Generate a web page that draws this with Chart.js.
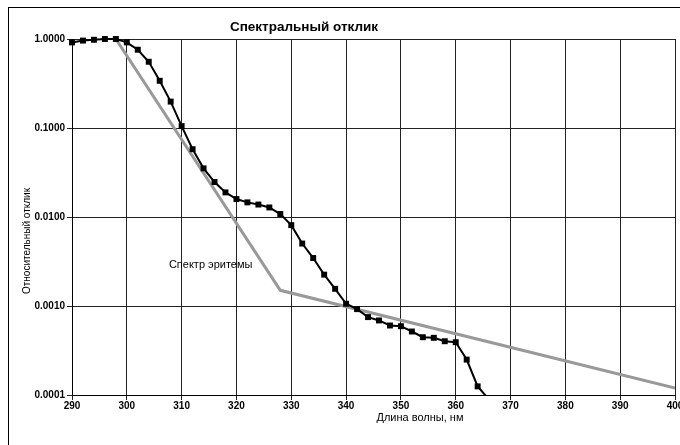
<!DOCTYPE html>
<html>
<head>
<meta charset="utf-8">
<script src="https://cdn.jsdelivr.net/npm/chart.js@4"></script>
<style>
    html, body { margin: 0; padding: 0; background: #fff; overflow: hidden; width: 680px; height: 445px; }
    canvas { display: block; }
</style>
</head>
<body>
<canvas id="chart" width="700" height="445"></canvas>
<script>
// длины волн, нм (шаг 2 нм)
const wavelengths = [290, 292, 294, 296, 298, 300, 302, 304, 306, 308, 310, 312, 314, 316, 318, 320,
    322, 324, 326, 328, 330, 332, 334, 336, 338, 340, 342, 344, 346, 348, 350, 352, 354, 356, 358,
    360, 362, 364, 366];
const sensorResponse = [0.916, 0.96, 0.98, 1.0, 1.0, 0.916, 0.758, 0.555, 0.339, 0.198, 0.105, 0.0578,
    0.0352, 0.0247, 0.0189, 0.0159, 0.0146, 0.0138, 0.0128, 0.0108, 0.0081, 0.00503, 0.00346, 0.00225,
    0.00156, 0.00106, 0.000922, 0.00075, 0.000688, 0.000604, 0.000593, 0.000517, 0.000446, 0.000439,
    0.000402, 0.000392, 0.00025, 0.000125, 0.00009];

// спектр эритемы
const erythemaWavelengths = [298, 328, 400];
const erythemaValues = [1.0, 0.0015, 0.00012];

const yTicks = [0.0001, 0.001, 0.01, 0.1, 1];
const chartTitle = 'Спектральный отклик';
const xTitle = 'Длина волны, нм';
const yTitle = 'Относительный отклик';
const erythemaLabel = 'Спектр эритемы';

const FONT = '"Liberation Sans", Arial, sans-serif';

const textPlugin = {
    id: 'texts',
    beforeDraw(chart) {
        const ctx = chart.ctx;
        ctx.save();
        ctx.strokeStyle = '#000';
        ctx.lineWidth = 1;
        ctx.strokeRect(8.5, 7.5, 900, 900);
        ctx.restore();
    },
    afterDraw(chart) {
        const ctx = chart.ctx;
        const x = chart.scales.x, y = chart.scales.y;
        ctx.save();
        ctx.fillStyle = '#000';
        ctx.textAlign = 'center';
        ctx.textBaseline = 'middle';

        ctx.font = 'bold 13.5px ' + FONT;
        ctx.fillText(chartTitle, 304, 27);

        ctx.font = '11px ' + FONT;
        ctx.fillText(xTitle, 420, 418);

        ctx.fillText(erythemaLabel, x.getPixelForValue(315.3), y.getPixelForValue(0.00286));

        ctx.font = '10px ' + FONT;
        ctx.translate(27, 241);
        ctx.rotate(-Math.PI / 2);
        ctx.fillText(yTitle, 0, 0);
        ctx.restore();
    }
};

new Chart(document.getElementById('chart'), {
    type: 'line',
    data: {
        datasets: [{
            label: 'Отклик',
            data: wavelengths.map((w, i) => ({ x: w, y: sensorResponse[i] })),
            borderColor: '#000',
            backgroundColor: '#000',
            borderWidth: 2,
            pointStyle: 'rect',
            pointRadius: 4.2,
            pointBorderWidth: 0,
            clip: { left: 6, top: 6, right: 6, bottom: 0 }
        }, {
            label: erythemaLabel,
            data: erythemaWavelengths.map((w, i) => ({ x: w, y: erythemaValues[i] })),
            borderColor: '#999999',
            borderWidth: 3,
            pointRadius: 0,
            clip: 0
        }]
    },
    options: {
        responsive: false,
        animation: false,
        devicePixelRatio: 1,
        layout: { padding: { left: 0, top: 39, right: 25, bottom: 0 } },
        plugins: {
            legend: { display: false },
            title: { display: false },
            tooltip: { enabled: false }
        },
        scales: {
            x: {
                type: 'linear',
                min: 290,
                max: 400,
                afterFit: (scale) => { scale.height = 50; },
                ticks: {
                    stepSize: 10,
                    color: '#000',
                    padding: 0,
                    maxRotation: 0,
                    font: { family: FONT, size: 10, weight: 'bold' }
                },
                grid: { color: '#222', lineWidth: 1, tickLength: 5, drawTicks: true },
                border: { color: '#000', width: 1 }
            },
            y: {
                type: 'logarithmic',
                min: 0.0001,
                max: 1,
                afterFit: (scale) => { scale.width = 72; },
                afterBuildTicks: (scale) => { scale.ticks = yTicks.map(v => ({ value: v })); },
                ticks: {
                    color: '#000',
                    padding: 2,
                    font: { family: FONT, size: 10, weight: 'bold' },
                    callback: (v) => Number(v).toFixed(4)
                },
                grid: { color: '#222', lineWidth: 1, tickLength: 5 },
                border: { color: '#000', width: 1 }
            }
        }
    },
    plugins: [textPlugin]
});
</script>
</body>
</html>
